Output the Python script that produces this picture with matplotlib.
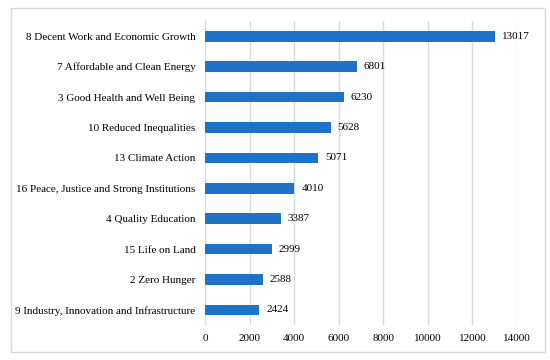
import matplotlib.pyplot as plt
from matplotlib.patches import Rectangle

# SDG goals with article counts, top to bottom
goals = ['8 Decent Work and Economic Growth',
         '7 Affordable and Clean Energy',
         '3 Good Health and Well Being',
         '10 Reduced Inequalities',
         '13 Climate Action',
         '16 Peace, Justice and Strong Institutions',
         '4 Quality Education',
         '15 Life on Land',
         '2 Zero Hunger',
         '9 Industry, Innovation and Infrastructure']
counts = [13017, 6801, 6230, 5628, 5071, 4010, 3387, 2999, 2588, 2424]
xticks = [0, 2000, 4000, 6000, 8000, 10000, 12000, 14000]

plt.rcParams['font.family'] = ['Liberation Serif', 'DejaVu Serif']
plt.rcParams['font.size'] = 8

fig = plt.figure(figsize=(5.5, 3.6), dpi=100)
ax = fig.add_axes([0.373, 0.0967, 0.567, 0.845])

# outer chart border
fig.patches.append(Rectangle((0.02, 0.022), 0.97, 0.957, transform=fig.transFigure,
                             fill=False, edgecolor='#d9d9d9', linewidth=1))

ypos = list(range(len(goals)))
ax.barh(ypos, counts, height=0.35, color='#1f72c8', zorder=3)
for y, v in zip(ypos, counts):
    ax.annotate(str(v), (v, y), xytext=(5, 0), textcoords='offset points',
                va='center', ha='left', fontsize=8)

ax.set_yticks(ypos)
ax.set_yticklabels(goals)
ax.set_ylim(len(goals) - 0.5, -0.5)
ax.set_xlim(0, 14000)
ax.set_xticks(xticks)
ax.grid(axis='x', color='#d9d9d9', linewidth=1, zorder=0)
for s in ['top', 'right', 'bottom']:
    ax.spines[s].set_visible(False)
ax.spines['left'].set_color('#d9d9d9')
ax.tick_params(length=0, pad=7)
ax.tick_params(axis='x', pad=6)

fig.savefig('out.png', dpi=100)
